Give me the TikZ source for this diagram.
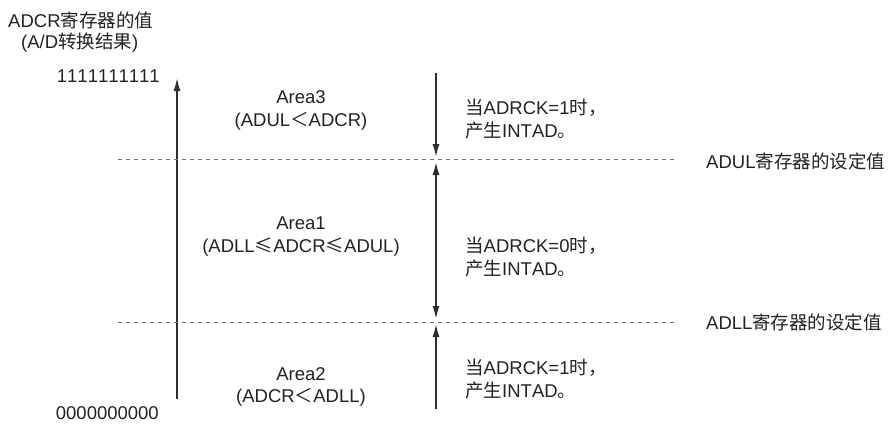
\documentclass[tikz,border=0pt]{standalone}
\usepackage{fontspec}
\setmainfont{Liberation Sans}[Kerning=Off]
\newfontfamily\cjk{Noto Sans CJK SC}
\usetikzlibrary{arrows.meta}
\definecolor{ink}{HTML}{222222}
\definecolor{arr}{HTML}{2E2E2E}
\definecolor{dsh}{HTML}{707070}
\begin{document}
\begin{tikzpicture}[x=1pt,y=-1pt,
  txt/.style={inner sep=0pt,text=ink,font=\fontsize{18.5}{22}\selectfont},
  lft/.style={txt,anchor=west},
  area/.style={txt,align=center},
  axisline/.style={line width=2.2pt,draw=arr,-{Latex[length=14pt,width=7pt]}},
  bothline/.style={line width=2.2pt,draw=arr,{Latex[length=14pt,width=7pt]}-{Latex[length=14pt,width=7pt]}},
  level/.style={draw=dsh,line width=1pt,dash pattern=on 4pt off 4pt}]
\useasboundingbox (0,0) rectangle (893,423);
% titles
\node[lft] (t1) at (8,20) {ADCR{\cjk 寄存器的值}};
\node[lft] (t2) at (21,43) {(A/D{\cjk 转换结果})};
\node[txt,anchor=east] (hi) at (160,76) {1111111111};
\node[txt,anchor=east] (lo) at (159,413) {0000000000};
% left axis
\coordinate (ab) at (177,399);
\coordinate (at) at (177,77);
\draw[axisline] (ab) -- (at);
% dashed levels
\coordinate (ul) at (118,159);
\coordinate (ur) at (678,159);
\coordinate (ll) at (118,322);
\coordinate (lr) at (678,322);
\draw[level] (ul) -- (ur);
\draw[level] (ll) -- (lr);
\node[lft] (adul) at (706,161) {ADUL{\cjk 寄存器的设定值}};
\node[lft] (adll) at (706,322) {ADLL{\cjk 寄存器的设定值}};
% right arrows
\coordinate (r1a) at (436,73);
\coordinate (r1b) at (436,158);
\coordinate (r2a) at (436,161);
\coordinate (r2b) at (436,320);
\coordinate (r3a) at (436,409);
\coordinate (r3b) at (436,323);
\draw[axisline] (r1a) -- (r1b);
\draw[bothline] (r2a) -- (r2b);
\draw[axisline] (r3a) -- (r3b);
% area texts
\node[area] (a3) at (301,97) {Area3};
\node[area] (a3c) at (301,121) {(ADUL{\cjk ＜}ADCR)};
\node[area] (a1) at (301,223) {Area1};
\node[area] (a1c) at (301,247) {(ADLL{\cjk ≤}ADCR{\cjk ≤}ADUL)};
\node[area] (a2) at (301,374) {Area2};
\node[area] (a2c) at (301,397) {(ADCR{\cjk ＜}ADLL)};
% right texts
\node[lft] (c1) at (465,108) {{\cjk 当}ADRCK=1{\cjk 时，}};
\node[lft] (c1b) at (465,131) {{\cjk 产生}INTAD{\cjk 。}};
\node[lft] (c2) at (465,246) {{\cjk 当}ADRCK=0{\cjk 时，}};
\node[lft] (c2b) at (465,269) {{\cjk 产生}INTAD{\cjk 。}};
\node[lft] (c3) at (465,368) {{\cjk 当}ADRCK=1{\cjk 时，}};
\node[lft] (c3b) at (465,391) {{\cjk 产生}INTAD{\cjk 。}};
\end{tikzpicture}
\end{document}
